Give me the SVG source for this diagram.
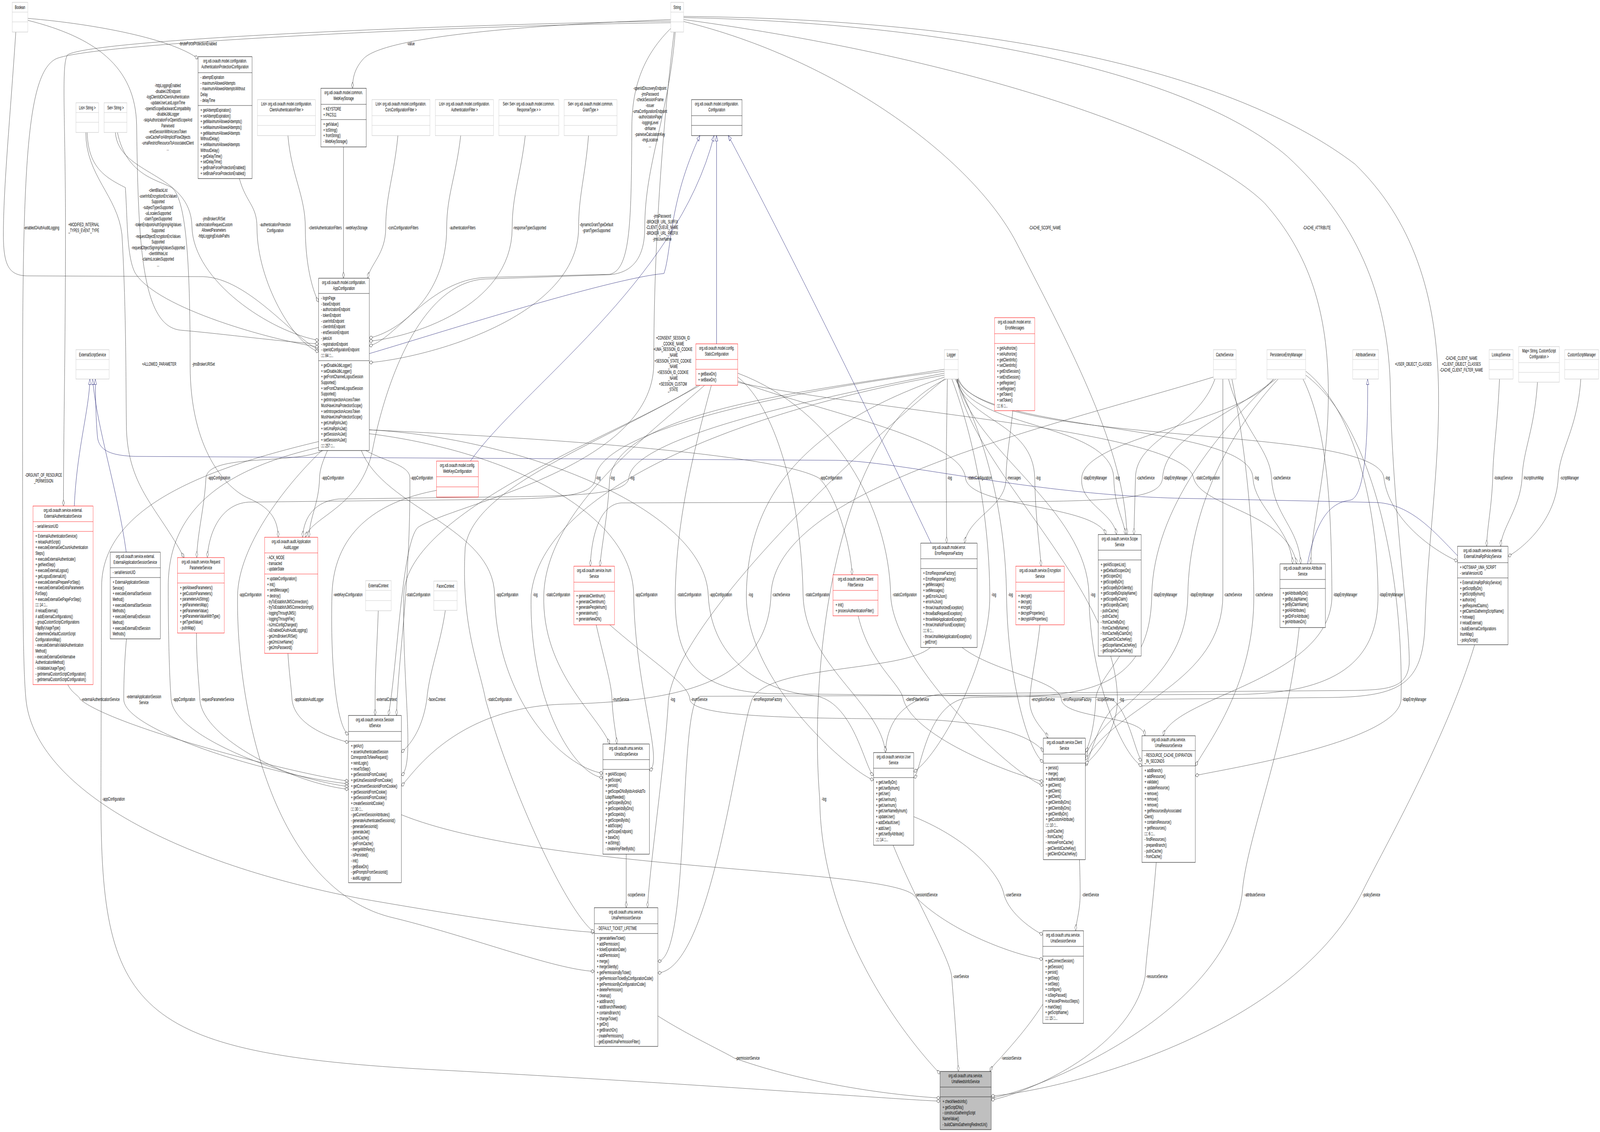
<svg xmlns="http://www.w3.org/2000/svg" width="7085" height="2897" viewBox="0 0 7085 2897" preserveAspectRatio="none">
<defs>
<style>
svg:root{width:100vw;height:100vh}
text{font-family:"Liberation Sans",Arial,Helvetica,sans-serif;font-size:12.5px;fill:#000}
.c{text-anchor:middle}
.node rect{fill:#fff;stroke-width:1}
.node line{stroke-width:1}
.b rect,.b line{stroke:#000}
.g rect,.g line{stroke:#bfbfbf}
.r rect,.r line{stroke:#ff0000}
.main rect{fill:#bfbfbf}
#connectors path{fill:none;stroke:#404040;stroke-width:1;marker-end:url(#dia)}
#connectors path.inh{stroke:#191970;marker-end:url(#tri)}
#edge-labels text{text-anchor:middle}
</style>
<marker id="dia" viewBox="-1 -6 18 12" refX="16" refY="0" markerWidth="18" markerHeight="12" markerUnits="userSpaceOnUse" orient="auto"><path d="M0,0 L8,-4.5 L16,0 L8,4.5 Z" fill="#fff" stroke="#404040" stroke-width="1"/></marker>
<marker id="tri" viewBox="-1 -7 16 14" refX="14" refY="0" markerWidth="16" markerHeight="14" markerUnits="userSpaceOnUse" orient="auto"><path d="M0,-5.5 L14,0 L0,5.5 Z" fill="#fff" stroke="#191970" stroke-width="1"/></marker>
</defs>
<rect x="0" y="0" width="7085" height="2897" fill="#fff"/>

<g id="connectors">
<path d="M123,47 C430,62 760,100 877,150"/>
<path d="M2970,50 C2300,65 1700,95 1610,150 C1575,172 1561,195 1561,226"/>
<path d="M123,52 C420,95 600,170 605,320 C612,620 625,835 800,845 C1000,855 1250,875 1411,880"/>
<path d="M2975,70 C2850,140 2800,220 2798,320 C2795,560 2795,690 2700,702 L2150,710 C1900,716 1750,870 1635,885"/>
<path d="M70,82 C45,300 15,480 15,600 C15,680 40,705 120,706 L900,708 C1100,712 1300,865 1411,895"/>
<path d="M386,339 C390,430 470,455 555,480 C565,560 560,660 600,700 C700,790 1200,870 1411,888"/>
<path d="M511,339 C525,450 845,440 850,580 C855,720 1200,850 1411,871"/>
<path d="M1060,457 C1090,520 1138,525 1138,583 C1138,720 1300,880 1411,900"/>
<path d="M1275,347 C1290,450 1352,500 1352,583 C1352,680 1385,745 1411,773"/>
<path d="M1521,376 L1521,712"/>
<path d="M1762,347 C1745,450 1708,500 1708,583 C1708,650 1640,675 1628,712"/>
<path d="M2040,347 C2020,450 1978,500 1978,583 C1978,760 1760,850 1635,865"/>
<path d="M2326,347 C2305,450 2268,500 2268,583 C2268,790 1800,865 1635,873"/>
<path d="M2606,347 C2592,450 2562,500 2562,583 C2562,810 1900,915 1635,928"/>
<path d="M2970,54 C2000,62 420,100 300,140 C270,160 290,300 290,583 C290,900 281,1100 281,1295"/>
<path d="M2970,58 C2000,66 420,110 250,150 C120,185 100,420 100,1000 C100,1500 100,1700 115,1790 C150,2000 700,2200 1600,2300 C2100,2350 2450,2380 2632,2386"/>
<path d="M2990,82 C2960,300 2855,420 2855,583 C2855,660 2800,698 2700,703 L2150,714 C1850,722 1700,1000 1650,1150 C1600,1300 1380,1320 1352,1375"/>
<path d="M520,339 C560,450 700,460 760,480 C830,510 842,700 842,936 C842,1150 1000,1250 1100,1275 C1200,1300 1230,1330 1232,1375"/>
<path d="M380,339 C380,450 520,500 540,600 C560,800 557,1000 560,1100 C570,1250 700,1300 815,1427"/>
<path d="M2985,82 C2940,300 2895,600 2895,932 C2890,1200 2000,1290 1850,1350 C1780,1390 1760,1700 1720,1831"/>
<path d="M3027,55 C3700,150 4300,400 4500,620 C4750,900 4980,1150 4990,1368"/>
<path d="M3027,50 C4300,150 5300,350 5600,520 C5800,650 5880,800 5882,1000 C5884,1200 5810,1330 5804,1443"/>
<path d="M3027,45 C4300,60 5300,200 5700,400 C6000,560 6150,750 6157,1000 C6165,1300 6245,1600 6240,1700 C6230,1760 6150,1765 6000,1767 L4200,1775 C4000,1780 3925,1850 3921,1926"/>
<path d="M3027,42 C4500,50 5500,200 6000,420 C6250,560 6365,750 6370,1000 C6375,1200 6320,1400 6310,1600 C6300,1750 6200,1782 5900,1785 L5000,1790 C4880,1795 4830,1940 4806,1960"/>
<path d="M4182,945 C3600,1000 2750,1050 2700,1223 C2690,1330 2662,1400 2657,1449"/>
<path d="M4182,950 C3500,1000 2650,1100 2637,1223 C2630,1268 2500,1275 2200,1278 L1100,1285 C980,1290 925,1360 918,1427"/>
<path d="M4182,955 C3600,1020 2800,1120 2785,1223 C2775,1262 2600,1268 2300,1271 L1500,1277 C1400,1282 1345,1320 1340,1375"/>
<path d="M1430,1153 C1300,1190 920,1160 912,1223 C905,1300 875,1360 871,1427"/>
<path d="M1450,1153 C1430,1180 1416,1200 1415,1223 C1412,1290 1372,1320 1368,1375"/>
<path d="M1620,1153 C1700,1180 1815,1190 1815,1223 C1818,1500 1760,1700 1756,1831"/>
<path d="M1635,1100 C2000,1110 3400,1150 3625,1223 C3700,1260 3770,1400 3773,1471"/>
<path d="M4195,970 C4192,1100 4190,1150 4190,1223 L4192,1390"/>
<path d="M3267,975 C3600,1050 4260,1120 4275,1223 C4290,1300 4850,1290 4898,1368"/>
<path d="M4485,1051 C4470,1130 4455,1180 4455,1223 C4455,1300 4290,1320 4271,1390"/>
<path d="M4235,970 C4280,1080 4575,1080 4582,1223 C4585,1330 4605,1400 4610,1449"/>
<path d="M5640,970 C5500,1080 4800,1120 4790,1223 C4780,1290 4930,1310 4944,1368"/>
<path d="M4238,970 C4300,1100 4920,1080 4932,1223 C4935,1300 4978,1330 4983,1368"/>
<path d="M5380,970 C5300,1100 5030,1120 5028,1223 L5021,1368"/>
<path d="M5650,970 C5400,1080 5160,1120 5148,1223 C5140,1272 5000,1282 4500,1284 L2750,1287 C2650,1292 2618,1380 2614,1449"/>
<path d="M3240,975 C3800,1050 5250,1100 5285,1223 C5320,1300 5700,1310 5742,1443"/>
<path d="M4240,968 C4320,1110 5540,1080 5548,1223 C5555,1300 5715,1350 5724,1443"/>
<path d="M5440,970 C5500,1100 5625,1150 5630,1223 C5640,1320 5752,1350 5760,1443"/>
<path d="M4242,966 C4340,1150 6100,1080 6128,1223 C6150,1330 6350,1410 6454,1436"/>
<path d="M6640,970 C6630,1100 6612,1150 6610,1223 C6605,1300 6585,1350 6583,1398"/>
<path d="M6808,978 C6795,1100 6745,1150 6740,1223 C6732,1300 6650,1350 6645,1398"/>
<path d="M7000,970 C6985,1100 6905,1150 6900,1223 C6890,1330 6750,1400 6678,1424"/>
<path d="M1425,1153 C1250,1250 1058,1400 1052,1522 C1045,1800 1200,2280 1750,2350 C2100,2400 2450,2480 2632,2486"/>
<path d="M3090,986 C2800,1100 1800,1300 1788,1522 C1780,1750 1840,1960 1777,1984"/>
<path d="M1600,1153 C1700,1300 2185,1350 2190,1522 C2200,1800 2500,1965 2670,1979"/>
<path d="M4182,960 C3300,1050 2400,1250 2352,1522 C2340,1800 2550,1985 2670,1990"/>
<path d="M3120,986 C2900,1100 2420,1300 2408,1522 C2398,1720 2650,1830 2700,1904"/>
<path d="M1635,1110 C2200,1150 2800,1300 2806,1522 C2812,1760 2940,1950 2876,1972"/>
<path d="M3150,986 C3050,1200 2995,1350 2990,1522 C2985,1700 3100,1765 3400,1775 L4900,1785 C4990,1790 5030,1940 5057,1946"/>
<path d="M1635,1100 C2300,1120 3120,1300 3136,1522 C3150,1700 3400,1770 3600,1780 C3780,1790 3830,1970 3868,1984"/>
<path d="M4182,965 C3500,1100 3310,1300 3305,1522 C3300,1750 3780,1980 3868,1996"/>
<path d="M5373,965 C4600,1100 3430,1250 3414,1522 C3400,1750 3000,1795 2500,1802 C2000,1810 1820,1990 1777,2011"/>
<path d="M3267,965 C3450,1050 3550,1300 3556,1522 C3562,1700 3900,1800 3921,1926"/>
<path d="M3267,955 C3700,1050 3935,1300 3944,1522 C3953,1700 4500,1990 4620,2010"/>
<path d="M4215,970 C4300,1100 4380,1300 4383,1522 C4386,1700 4150,1940 4046,1975"/>
<path d="M4230,970 C4350,1100 4452,1300 4457,1522 C4462,1750 4560,1930 4620,1950"/>
<path d="M4240,970 C4300,1150 4815,1300 4822,1522 C4826,1750 4980,1940 5057,1960"/>
<path d="M5640,970 C5400,1100 5110,1300 5100,1522 C5095,1800 4700,1780 4300,1785 C4100,1790 4080,1980 4046,1990"/>
<path d="M5660,970 C5450,1100 5265,1300 5260,1522 C5255,1750 4900,1800 4806,1935"/>
<path d="M5415,970 L5415,1522 C5415,1750 4950,1800 4806,1945"/>
<path d="M5455,970 C5500,1100 5548,1300 5552,1522 C5556,1750 5350,1900 5293,1960"/>
<path d="M5770,970 C5880,1100 5895,1300 5898,1522 C5902,1740 5200,1780 5150,1883"/>
<path d="M5782,950 C6000,1050 6100,1300 6102,1522 C6105,1700 5900,1772 5500,1777 L3100,1782 C3000,1790 3060,2455 2913,2460"/>
<path d="M1933,1255 C1700,1280 1478,1350 1470,1522 C1462,1700 1490,1860 1543,1880"/>
<path d="M300,1752 C320,1775 350,1780 355,1790 C500,1860 1300,1980 1543,1999"/>
<path d="M560,1635 C550,1700 548,1750 548,1790 C550,1870 1200,1985 1543,2006"/>
<path d="M1411,1145 C1000,1200 745,1300 745,1500 C745,1650 752,1750 758,1790 C770,1890 1300,1995 1543,2013"/>
<path d="M870,1620 C870,1700 882,1750 885,1790 C895,1890 1300,2005 1543,2020"/>
<path d="M1275,1672 C1280,1720 1290,1760 1293,1790 C1305,1860 1480,1890 1543,1900"/>
<path d="M1675,1563 C1670,1650 1661,1720 1661,1790 L1661,1831"/>
<path d="M1972,1562 C1950,1650 1900,1720 1890,1790 C1870,1870 1810,1910 1777,1925"/>
<path d="M3100,986 C2600,1150 2100,1250 2060,1400 C2040,1600 2120,1700 2150,1790 C2250,2000 2500,2330 2632,2386"/>
<path d="M2640,1599 C2680,1700 2708,1750 2710,1790 C2715,1850 2730,1880 2731,1904"/>
<path d="M4182,970 C3700,1200 3000,1600 2960,1790 C2945,1950 2880,2200 2867,2323"/>
<path d="M2700,1599 C2900,1700 3050,1750 3055,1790 C3065,1835 3500,1838 4000,1840 C4450,1842 4600,1900 4620,1925"/>
<path d="M4120,1657 C4000,1720 3400,1700 3330,1790 C3260,1900 3150,2480 2913,2490"/>
<path d="M3800,1576 C3850,1700 3990,1750 4000,1790 C4050,1890 4500,1985 4620,2000"/>
<path d="M4605,1599 C4590,1680 4565,1740 4560,1790 C4556,1840 4630,1870 4640,1889"/>
<path d="M4260,1657 C4400,1720 4690,1740 4700,1790 C4710,1840 5060,1830 5070,1883"/>
<path d="M4958,1679 C4900,1730 4855,1760 4852,1790 C4848,1860 4820,1912 4806,1924"/>
<path d="M4238,970 C4300,1200 4945,1500 4948,1790 C4948,1880 4830,1945 4806,1955"/>
<path d="M5782,960 C6100,1100 6215,1500 6204,1790 C6195,1900 5400,1970 5293,1985"/>
<path d="M1411,1130 C900,1200 452,1300 450,1500 C448,1800 447,2000 447,2045 C447,2600 600,2700 2000,2740 C3200,2778 4000,2815 4163,2818"/>
<path d="M4190,970 C3700,1100 3580,1700 3630,2045 C3635,2400 4050,2680 4163,2748"/>
<path d="M2773,2186 L2773,2323"/>
<path d="M1777,2085 C2400,2230 3900,2220 4045,2290 C4200,2385 4500,2445 4618,2455"/>
<path d="M4046,2090 C4300,2150 4430,2240 4446,2290 C4470,2340 4580,2382 4618,2392"/>
<path d="M4780,2200 C4783,2250 4783,2270 4783,2290 C4783,2330 4765,2360 4763,2382"/>
<path d="M5753,1606 C5700,1900 5515,2150 5500,2290 C5420,2600 4600,2790 4389,2810"/>
<path d="M6530,1650 C6400,1900 6100,2200 6026,2290 C5700,2650 4700,2790 4389,2805"/>
<path d="M3955,2163 C4050,2300 4205,2450 4214,2499 C4228,2600 4240,2700 4244,2742"/>
<path d="M5120,2207 C5100,2350 5075,2450 5071,2499 C5000,2700 4500,2805 4389,2815"/>
<path d="M2913,2600 C3050,2650 3200,2690 3252,2708 C3600,2780 4000,2805 4163,2810"/>
<path d="M4618,2570 C4540,2640 4455,2690 4430,2708 C4410,2720 4392,2730 4384,2742"/>
<path class="inh" d="M329,1295 C340,1150 395,1050 398,970"/>
<path class="inh" d="M559,1413 C520,1250 430,1100 410,970"/>
<path class="inh" d="M6454,1422 C6350,1360 6250,1292 6100,1286 L5300,1276 C4600,1272 4000,1180 3700,1178 L600,1168 C480,1166 440,1150 432,1120 C425,1080 423,1020 422,970"/>
<path class="inh" d="M1635,905 C1900,860 2700,712 2940,700 C2975,640 2960,520 3099,347"/>
<path class="inh" d="M2083,1180 C2300,1000 3000,720 3162,347"/>
<path class="inh" d="M3173,880 L3173,347"/>
<path class="inh" d="M4123,1390 C3950,1180 3550,700 3225,347"/>
<path class="inh" d="M5790,1443 C5830,1320 5900,1285 5980,1280 C6040,1270 6058,1150 6056,970"/>
</g>

<g id="edge-labels">
<text x="877" y="116">-bruteForceProtectionEnabled</text>
<text x="1819" y="116">-value</text>
<text y="223"><tspan x="743">-httpLoggingEnabled</tspan><tspan x="743" dy="14.7">-disableU2fEndpoint</tspan><tspan x="743" dy="14.7">-logClientIdOnClientAuthentication</tspan><tspan x="743" dy="14.7">-updateUserLastLogonTime</tspan><tspan x="743" dy="14.7">-openidScopeBackwardCompatibility</tspan><tspan x="743" dy="14.7">-disableJdkLogger</tspan><tspan x="743" dy="14.7">-skipAuthorizationForOpenIdScopeAnd</tspan><tspan x="743" dy="14.7">PairwiseId</tspan><tspan x="743" dy="14.7">-endSessionWithAccessToken</tspan><tspan x="743" dy="14.7">-useCacheForAllImplicitFlowObjects</tspan><tspan x="743" dy="14.7">-umaRestrictResourceToAssociatedClient</tspan><tspan x="743" dy="14.7">...</tspan></text>
<text y="230"><tspan x="2878">-openIdDiscoveryEndpoint</tspan><tspan x="2878" dy="14.7">-jmsPassword</tspan><tspan x="2878" dy="14.7">-checkSessionIFrame</tspan><tspan x="2878" dy="14.7">-issuer</tspan><tspan x="2878" dy="14.7">-umaConfigurationEndpoint</tspan><tspan x="2878" dy="14.7">-authorizationPage</tspan><tspan x="2878" dy="14.7">-loggingLevel</tspan><tspan x="2878" dy="14.7">-dnName</tspan><tspan x="2878" dy="14.7">-pairwiseCalculationKey</tspan><tspan x="2878" dy="14.7">-imgLocation</tspan><tspan x="2878" dy="14.7">...</tspan></text>
<text x="184" y="587">-enabledOAuthAuditLogging</text>
<text y="579"><tspan x="371">+MODIFIED_INTERNAL</tspan><tspan x="371" dy="15">_TYPES_EVENT_TYPE</tspan></text>
<text y="491"><tspan x="700">-clientBlackList</tspan><tspan x="700" dy="14.7">-userInfoEncryptionEncValues</tspan><tspan x="700" dy="14.7">Supported</tspan><tspan x="700" dy="14.7">-subjectTypesSupported</tspan><tspan x="700" dy="14.7">-uiLocalesSupported</tspan><tspan x="700" dy="14.7">-claimTypesSupported</tspan><tspan x="700" dy="14.7">-tokenEndpointAuthSigningAlgValues</tspan><tspan x="700" dy="14.7">Supported</tspan><tspan x="700" dy="14.7">-requestObjectEncryptionEncValues</tspan><tspan x="700" dy="14.7">Supported</tspan><tspan x="700" dy="14.7">-requestObjectSigningAlgValuesSupported</tspan><tspan x="700" dy="14.7">-clientWhiteList</tspan><tspan x="700" dy="14.7">-claimsLocalesSupported</tspan><tspan x="700" dy="14.7">...</tspan></text>
<text y="564"><tspan x="947">-jmsBrokerURISet</tspan><tspan x="947" dy="14.7">-authorizationRequestCustom</tspan><tspan x="947" dy="14.7">AllowedParameters</tspan><tspan x="947" dy="14.7">-httpLoggingExludePaths</tspan></text>
<text y="579"><tspan x="1219">-authenticationProtection</tspan><tspan x="1219" dy="15">Configuration</tspan></text>
<text x="1440" y="587">-clientAuthenticationFilters</text>
<text x="1578" y="587">-webKeysStorage</text>
<text x="1785" y="587">-corsConfigurationFilters</text>
<text x="2048" y="587">-authenticationFilters</text>
<text x="2345" y="587">-responseTypesSupported</text>
<text y="579"><tspan x="2641">-dynamicGrantTypeDefault</tspan><tspan x="2641" dy="15">-grantTypesSupported</tspan></text>
<text y="557"><tspan x="2932">-jmsPassword</tspan><tspan x="2932" dy="14.7">-BROKER_URL_SUFFIX</tspan><tspan x="2932" dy="14.7">-CLIENT_QUEUE_NAME</tspan><tspan x="2932" dy="14.7">-BROKER_URL_PREFIX</tspan><tspan x="2932" dy="14.7">-jmsUserName</tspan></text>
<text x="4627" y="587">-CACHE_SCOPE_NAME</text>
<text x="5831" y="587">-CACHE_ATTRIBUTE</text>
<text x="705" y="936">+ALLOWED_PARAMETER</text>
<text x="901" y="936">-jmsBrokerURISet</text>
<text y="869"><tspan x="2980">+CONSENT_SESSION_ID</tspan><tspan x="2980" dy="14.7">_COOKIE_NAME</tspan><tspan x="2980" dy="14.7">+UMA_SESSION_ID_COOKIE</tspan><tspan x="2980" dy="14.7">_NAME</tspan><tspan x="2980" dy="14.7">+SESSION_STATE_COOKIE</tspan><tspan x="2980" dy="14.7">_NAME</tspan><tspan x="2980" dy="14.7">+SESSION_ID_COOKIE</tspan><tspan x="2980" dy="14.7">_NAME</tspan><tspan x="2980" dy="14.7">+SESSION_CUSTOM</tspan><tspan x="2980" dy="14.7">_STATE</tspan></text>
<text x="6258" y="936">+USER_OBJECT_CLASSES</text>
<text y="921"><tspan x="6471">-CACHE_CLIENT_NAME</tspan><tspan x="6471" dy="15">+CLIENT_OBJECT_CLASSES</tspan><tspan x="6471" dy="15">-CACHE_CLIENT_FILTER_NAME</tspan></text>
<text y="1220"><tspan x="193">-ORGUNIT_OF_RESOURCE</tspan><tspan x="193" dy="14.7">_PERMISSION</tspan></text>
<text x="970" y="1227">-appConfiguration</text>
<text x="1474" y="1227">-appConfiguration</text>
<text x="1868" y="1227">-appConfiguration</text>
<text x="2649" y="1227">-log</text>
<text x="2712" y="1227">-log</text>
<text x="2799" y="1227">-log</text>
<text x="3680" y="1227">-appConfiguration</text>
<text x="4205" y="1227">-log</text>
<text x="4338" y="1227">-staticConfiguration</text>
<text x="4490" y="1227">-messages</text>
<text x="4597" y="1227">-log</text>
<text x="4849" y="1227">-ldapEntryManager</text>
<text x="4948" y="1227">-log</text>
<text x="5073" y="1227">-cacheService</text>
<text x="5205" y="1227">-ldapEntryManager</text>
<text x="5348" y="1227">-staticConfiguration</text>
<text x="5564" y="1227">-log</text>
<text x="5675" y="1227">-cacheService</text>
<text x="6144" y="1227">-log</text>
<text x="6657" y="1227">-lookupService</text>
<text x="6791" y="1227">#scriptInumMap</text>
<text x="6950" y="1227">-scriptManager</text>
<text x="1109" y="1526">-appConfiguration</text>
<text x="1541" y="1526">-webKeysConfiguration</text>
<text x="1852" y="1526">-staticConfiguration</text>
<text x="2246" y="1526">-appConfiguration</text>
<text x="2370" y="1526">-log</text>
<text x="2471" y="1526">-staticConfiguration</text>
<text x="2862" y="1526">-appConfiguration</text>
<text x="3052" y="1526">-staticConfiguration</text>
<text x="3192" y="1526">-appConfiguration</text>
<text x="3324" y="1526">-log</text>
<text x="3459" y="1526">-cacheService</text>
<text x="3619" y="1526">-staticConfiguration</text>
<text x="4006" y="1526">-staticConfiguration</text>
<text x="4401" y="1526">-log</text>
<text x="4475" y="1526">-log</text>
<text x="4840" y="1526">-log</text>
<text x="5160" y="1526">-ldapEntryManager</text>
<text x="5322" y="1526">-ldapEntryManager</text>
<text x="5460" y="1526">-cacheService</text>
<text x="5597" y="1526">-cacheService</text>
<text x="5957" y="1526">-ldapEntryManager</text>
<text x="6161" y="1526">-ldapEntryManager</text>
<text x="445" y="1794">-externalAuthenticationService</text>
<text y="1787"><tspan x="637">-externalApplicationSession</tspan><tspan x="637" dy="15">Service</tspan></text>
<text x="815" y="1794">-appConfiguration</text>
<text x="964" y="1794">-requestParameterService</text>
<text x="1368" y="1794">-applicationAuditLogger</text>
<text x="1711" y="1794">-externalContext</text>
<text x="1934" y="1794">-facesContext</text>
<text x="2213" y="1794">-staticConfiguration</text>
<text x="2749" y="1794">-inumService</text>
<text x="2979" y="1794">-log</text>
<text x="3096" y="1794">-inumService</text>
<text x="3399" y="1794">-errorResponseFactory</text>
<text x="4062" y="1794">-clientFilterService</text>
<text x="4619" y="1794">-encryptionService</text>
<text x="4769" y="1794">-errorResponseFactory</text>
<text x="4895" y="1794">-scopeService</text>
<text x="4967" y="1794">-log</text>
<text x="6263" y="1794">-ldapEntryManager</text>
<text x="503" y="2049">-appConfiguration</text>
<text x="3649" y="2049">-log</text>
<text x="2817" y="2294">-scopeService</text>
<text x="4102" y="2294">-sessionIdService</text>
<text x="4487" y="2294">-userService</text>
<text x="4829" y="2294">-clientService</text>
<text x="5557" y="2294">-attributeService</text>
<text x="6073" y="2294">-policyService</text>
<text x="4255" y="2503">-userService</text>
<text x="5123" y="2503">-resourceService</text>
<text x="3311" y="2712">-permissionService</text>
<text x="4479" y="2712">-sessionService</text>
</g>

<g id="node-Boolean" class="node g"><rect x="54" y="6" width="69" height="76"/><line x1="54" y1="31" x2="123" y2="31"/><line x1="54" y1="56" x2="123" y2="56"/><text class="c" x="88.5" y="23">Boolean</text></g>
<g id="node-String" class="node g"><rect x="2970" y="6" width="57" height="76"/><line x1="2970" y1="31" x2="3027" y2="31"/><line x1="2970" y1="56" x2="3027" y2="56"/><text class="c" x="2998.5" y="23">String</text></g>
<g id="node-AuthenticationProtectionConfiguration" class="node b"><rect x="877" y="145" width="239" height="312"/><line x1="877" y1="186" x2="1116" y2="186"/><line x1="877" y1="270" x2="1116" y2="270"/>
<text class="c" y="160"><tspan x="996.5">org.xdi.oxauth.model.configuration.</tspan><tspan x="996.5" dy="15">AuthenticationProtectionConfiguration</tspan></text>
<text y="202"><tspan x="888">- attemptExpiration</tspan><tspan x="888" dy="14.7">- maximumAllowedAttempts</tspan><tspan x="888" dy="14.7">- maximumAllowedAttemptsWithout</tspan><tspan x="888" dy="14.7">Delay</tspan><tspan x="888" dy="14.7">- delayTime</tspan></text>
<text y="286"><tspan x="888">+ getAttemptExpiration()</tspan><tspan x="888" dy="14.7">+ setAttemptExpiration()</tspan><tspan x="888" dy="14.7">+ getMaximumAllowedAttempts()</tspan><tspan x="888" dy="14.7">+ setMaximumAllowedAttempts()</tspan><tspan x="888" dy="14.7">+ getMaximumAllowedAttempts</tspan><tspan x="888" dy="14.7">WithoutDelay()</tspan><tspan x="888" dy="14.7">+ setMaximumAllowedAttempts</tspan><tspan x="888" dy="14.7">WithoutDelay()</tspan><tspan x="888" dy="14.7">+ getDelayTime()</tspan><tspan x="888" dy="14.7">+ setDelayTime()</tspan><tspan x="888" dy="14.7">+ getBruteForceProtectionEnabled()</tspan><tspan x="888" dy="14.7">+ setBruteForceProtectionEnabled()</tspan></text></g>
<g id="node-ListString" class="node g"><rect x="336" y="263" width="101" height="76"/><line x1="336" y1="288" x2="437" y2="288"/><line x1="336" y1="313" x2="437" y2="313"/><text class="c" x="386.5" y="280">List&lt; String &gt;</text></g>
<g id="node-SetString" class="node g"><rect x="461" y="263" width="101" height="76"/><line x1="461" y1="288" x2="562" y2="288"/><line x1="461" y1="313" x2="562" y2="313"/><text class="c" x="511.5" y="280">Set&lt; String &gt;</text></g>
<g id="node-ListClientAuthenticationFilter" class="node g"><rect x="1140" y="255" width="257" height="92"/><line x1="1140" y1="296" x2="1397" y2="296"/><line x1="1140" y1="321" x2="1397" y2="321"/><text class="c" y="270"><tspan x="1268.5">List&lt; org.xdi.oxauth.model.configuration.</tspan><tspan x="1268.5" dy="15">ClientAuthenticationFilter &gt;</tspan></text></g>
<g id="node-WebKeyStorage" class="node b"><rect x="1421" y="226" width="201" height="150"/><line x1="1421" y1="267" x2="1622" y2="267"/><line x1="1421" y1="306" x2="1622" y2="306"/>
<text class="c" y="241"><tspan x="1521.5">org.xdi.oxauth.model.common.</tspan><tspan x="1521.5" dy="15">WebKeyStorage</tspan></text>
<text y="283"><tspan x="1432">+ KEYSTORE</tspan><tspan x="1432" dy="14.7">+ PKCS11</tspan></text>
<text y="322"><tspan x="1432">+ getValue()</tspan><tspan x="1432" dy="14.7">+ toString()</tspan><tspan x="1432" dy="14.7">+ fromString()</tspan><tspan x="1432" dy="14.7">- WebKeyStorage()</tspan></text></g>
<g id="node-ListCorsConfigurationFilter" class="node g"><rect x="1647" y="255" width="257" height="92"/><line x1="1647" y1="296" x2="1904" y2="296"/><line x1="1647" y1="321" x2="1904" y2="321"/><text class="c" y="270"><tspan x="1775.5">List&lt; org.xdi.oxauth.model.configuration.</tspan><tspan x="1775.5" dy="15">CorsConfigurationFilter &gt;</tspan></text></g>
<g id="node-ListAuthenticationFilter" class="node g"><rect x="1928" y="255" width="257" height="92"/><line x1="1928" y1="296" x2="2185" y2="296"/><line x1="1928" y1="321" x2="2185" y2="321"/><text class="c" y="270"><tspan x="2056.5">List&lt; org.xdi.oxauth.model.configuration.</tspan><tspan x="2056.5" dy="15">AuthenticationFilter &gt;</tspan></text></g>
<g id="node-SetSetResponseType" class="node g"><rect x="2209" y="255" width="265" height="92"/><line x1="2209" y1="296" x2="2474" y2="296"/><line x1="2209" y1="321" x2="2474" y2="321"/><text class="c" y="270"><tspan x="2341.5">Set&lt; Set&lt; org.xdi.oxauth.model.common.</tspan><tspan x="2341.5" dy="15">ResponseType &gt; &gt;</tspan></text></g>
<g id="node-SetGrantType" class="node g"><rect x="2498" y="255" width="234" height="92"/><line x1="2498" y1="296" x2="2732" y2="296"/><line x1="2498" y1="321" x2="2732" y2="321"/><text class="c" y="270"><tspan x="2615">Set&lt; org.xdi.oxauth.model.common.</tspan><tspan x="2615" dy="15">GrantType &gt;</tspan></text></g>
<g id="node-Configuration" class="node b"><rect x="3062" y="255" width="224" height="92"/><line x1="3062" y1="296" x2="3286" y2="296"/><line x1="3062" y1="321" x2="3286" y2="321"/><text class="c" y="270"><tspan x="3174">org.xdi.oxauth.model.configuration.</tspan><tspan x="3174" dy="15">Configuration</tspan></text></g>
<g id="node-AppConfiguration" class="node b"><rect x="1411" y="712" width="224" height="441"/><line x1="1411" y1="751" x2="1635" y2="751"/><line x1="1411" y1="923" x2="1635" y2="923"/>
<text class="c" y="727"><tspan x="1523">org.xdi.oxauth.model.configuration.</tspan><tspan x="1523" dy="15">AppConfiguration</tspan></text>
<text y="767"><tspan x="1422">- loginPage</tspan><tspan x="1422" dy="14.7">- baseEndpoint</tspan><tspan x="1422" dy="14.7">- authorizationEndpoint</tspan><tspan x="1422" dy="14.7">- tokenEndpoint</tspan><tspan x="1422" dy="14.7">- userInfoEndpoint</tspan><tspan x="1422" dy="14.7">- clientInfoEndpoint</tspan><tspan x="1422" dy="14.7">- endSessionEndpoint</tspan><tspan x="1422" dy="14.7">- jwksUri</tspan><tspan x="1422" dy="14.7">- registrationEndpoint</tspan><tspan x="1422" dy="14.7">- openIdConfigurationEndpoint</tspan><tspan x="1422" dy="14.7">□□ 84 □...</tspan></text>
<text y="939"><tspan x="1422">+ getDisableJdkLogger()</tspan><tspan x="1422" dy="14.7">+ setDisableJdkLogger()</tspan><tspan x="1422" dy="14.7">+ getFrontChannelLogoutSession</tspan><tspan x="1422" dy="14.7">Supported()</tspan><tspan x="1422" dy="14.7">+ setFrontChannelLogoutSession</tspan><tspan x="1422" dy="14.7">Supported()</tspan><tspan x="1422" dy="14.7">+ getIntrospectionAccessToken</tspan><tspan x="1422" dy="14.7">MustHaveUmaProtectionScope()</tspan><tspan x="1422" dy="14.7">+ setIntrospectionAccessToken</tspan><tspan x="1422" dy="14.7">MustHaveUmaProtectionScope()</tspan><tspan x="1422" dy="14.7">+ getUmaRptAsJwt()</tspan><tspan x="1422" dy="14.7">+ setUmaRptAsJwt()</tspan><tspan x="1422" dy="14.7">+ getSessionAsJwt()</tspan><tspan x="1422" dy="14.7">+ setSessionAsJwt()</tspan><tspan x="1422" dy="14.7">□□ 257 □...</tspan></text></g>
<g id="node-ExternalScriptService" class="node g"><rect x="336" y="895" width="147" height="75"/><line x1="336" y1="920" x2="483" y2="920"/><line x1="336" y1="946" x2="483" y2="946"/><text class="c" x="409.5" y="912">ExternalScriptService</text></g>
<g id="node-StaticConfiguration" class="node r"><rect x="3081" y="880" width="186" height="106"/><line x1="3081" y1="920" x2="3267" y2="920"/><line x1="3081" y1="945" x2="3267" y2="945"/>
<text class="c" y="895"><tspan x="3174">org.xdi.oxauth.model.config.</tspan><tspan x="3174" dy="15">StaticConfiguration</tspan></text>
<text y="961"><tspan x="3092">+ getBaseDn()</tspan><tspan x="3092" dy="14.7">+ setBaseDn()</tspan></text></g>
<g id="node-Logger" class="node g"><rect x="4182" y="895" width="61" height="75"/><line x1="4182" y1="920" x2="4243" y2="920"/><line x1="4182" y1="946" x2="4243" y2="946"/><text class="c" x="4212.5" y="912">Logger</text></g>
<g id="node-ErrorMessages" class="node r"><rect x="4404" y="813" width="178" height="238"/><line x1="4404" y1="854" x2="4582" y2="854"/><line x1="4404" y1="879" x2="4582" y2="879"/>
<text class="c" y="828"><tspan x="4493">org.xdi.oxauth.model.error.</tspan><tspan x="4493" dy="15">ErrorMessages</tspan></text>
<text y="895"><tspan x="4415">+ getAuthorize()</tspan><tspan x="4415" dy="14.8">+ setAuthorize()</tspan><tspan x="4415" dy="14.8">+ getClientInfo()</tspan><tspan x="4415" dy="14.8">+ setClientInfo()</tspan><tspan x="4415" dy="14.8">+ getEndSession()</tspan><tspan x="4415" dy="14.8">+ setEndSession()</tspan><tspan x="4415" dy="14.8">+ getRegister()</tspan><tspan x="4415" dy="14.8">+ setRegister()</tspan><tspan x="4415" dy="14.8">+ getToken()</tspan><tspan x="4415" dy="14.8">+ setToken()</tspan><tspan x="4415" dy="14.8">□□ 6 □...</tspan></text></g>
<g id="node-CacheService" class="node g"><rect x="5373" y="895" width="101" height="75"/><line x1="5373" y1="920" x2="5474" y2="920"/><line x1="5373" y1="946" x2="5474" y2="946"/><text class="c" x="5423.5" y="912">CacheService</text></g>
<g id="node-PersistenceEntryManager" class="node g"><rect x="5610" y="895" width="172" height="75"/><line x1="5610" y1="920" x2="5782" y2="920"/><line x1="5610" y1="946" x2="5782" y2="946"/><text class="c" x="5696" y="912">PersistenceEntryManager</text></g>
<g id="node-AttributeServiceBase" class="node g"><rect x="5990" y="895" width="114" height="75"/><line x1="5990" y1="920" x2="6104" y2="920"/><line x1="5990" y1="946" x2="6104" y2="946"/><text class="c" x="6047" y="912">AttributeService</text></g>
<g id="node-LookupService" class="node g"><rect x="6594" y="895" width="106" height="75"/><line x1="6594" y1="920" x2="6700" y2="920"/><line x1="6594" y1="946" x2="6700" y2="946"/><text class="c" x="6647" y="912">LookupService</text></g>
<g id="node-MapCustomScriptConfiguration" class="node g"><rect x="6725" y="887" width="180" height="91"/><line x1="6725" y1="928" x2="6905" y2="928"/><line x1="6725" y1="953" x2="6905" y2="953"/><text class="c" y="902"><tspan x="6815">Map&lt; String, CustomScript</tspan><tspan x="6815" dy="15">Configuration &gt;</tspan></text></g>
<g id="node-CustomScriptManager" class="node g"><rect x="6929" y="895" width="150" height="75"/><line x1="6929" y1="920" x2="7079" y2="920"/><line x1="6929" y1="946" x2="7079" y2="946"/><text class="c" x="7004" y="912">CustomScriptManager</text></g>
<g id="node-WebKeysConfiguration" class="node r"><rect x="1933" y="1180" width="185" height="92"/><line x1="1933" y1="1220" x2="2118" y2="1220"/><line x1="1933" y1="1246" x2="2118" y2="1246"/><text class="c" y="1195"><tspan x="2025.5">org.xdi.oxauth.model.config.</tspan><tspan x="2025.5" dy="15">WebKeysConfiguration</tspan></text></g>
<g id="node-ExternalAuthenticationService" class="node r"><rect x="146" y="1295" width="266" height="457"/><line x1="146" y1="1335" x2="412" y2="1335"/><line x1="146" y1="1360" x2="412" y2="1360"/>
<text class="c" y="1310"><tspan x="279">org.xdi.oxauth.service.external.</tspan><tspan x="279" dy="15">ExternalAuthenticationService</tspan></text>
<text x="157" y="1351">- serialVersionUID</text>
<text y="1376"><tspan x="157">+ ExternalAuthenticationService()</tspan><tspan x="157" dy="14.7">+ reloadAuthScript()</tspan><tspan x="157" dy="14.7">+ executeExternalGetCountAuthentication</tspan><tspan x="157" dy="14.7">Steps()</tspan><tspan x="157" dy="14.7">+ executeExternalAuthenticate()</tspan><tspan x="157" dy="14.7">+ getNextStep()</tspan><tspan x="157" dy="14.7">+ executeExternalLogout()</tspan><tspan x="157" dy="14.7">+ getLogoutExternalUrl()</tspan><tspan x="157" dy="14.7">+ executeExternalPrepareForStep()</tspan><tspan x="157" dy="14.7">+ executeExternalGetExtraParameters</tspan><tspan x="157" dy="14.7">ForStep()</tspan><tspan x="157" dy="14.7">+ executeExternalGetPageForStep()</tspan><tspan x="157" dy="14.7">□□ 14 □...</tspan><tspan x="157" dy="14.7"># reloadExternal()</tspan><tspan x="157" dy="14.7"># addExternalConfigurations()</tspan><tspan x="157" dy="14.7">- groupCustomScriptConfigurations</tspan><tspan x="157" dy="14.7">MapByUsageType()</tspan><tspan x="157" dy="14.7">- determineDefaultCustomScript</tspan><tspan x="157" dy="14.7">ConfigurationsMap()</tspan><tspan x="157" dy="14.7">- executeExternalIsValidAuthentication</tspan><tspan x="157" dy="14.7">Method()</tspan><tspan x="157" dy="14.7">- executeExternalGetAlternative</tspan><tspan x="157" dy="14.7">AuthenticationMethod()</tspan><tspan x="157" dy="14.7">- isValidateUsageType()</tspan><tspan x="157" dy="14.7">- getInternalCustomScriptConfiguration()</tspan><tspan x="157" dy="14.7">- getInternalCustomScriptConfiguration()</tspan></text></g>
<g id="node-ExternalApplicationSessionService" class="node b"><rect x="488" y="1413" width="222" height="222"/><line x1="488" y1="1453" x2="710" y2="1453"/><line x1="488" y1="1478" x2="710" y2="1478"/>
<text class="c" y="1428"><tspan x="599">org.xdi.oxauth.service.external.</tspan><tspan x="599" dy="15">ExternalApplicationSessionService</tspan></text>
<text x="499" y="1469">- serialVersionUID</text>
<text y="1494"><tspan x="499">+ ExternalApplicationSession</tspan><tspan x="499" dy="14.7">Service()</tspan><tspan x="499" dy="14.7">+ executeExternalStartSession</tspan><tspan x="499" dy="14.7">Method()</tspan><tspan x="499" dy="14.7">+ executeExternalStartSession</tspan><tspan x="499" dy="14.7">Methods()</tspan><tspan x="499" dy="14.7">+ executeExternalEndSession</tspan><tspan x="499" dy="14.7">Method()</tspan><tspan x="499" dy="14.7">+ executeExternalEndSession</tspan><tspan x="499" dy="14.7">Methods()</tspan></text></g>
<g id="node-RequestParameterService" class="node r"><rect x="786" y="1427" width="207" height="193"/><line x1="786" y1="1467" x2="993" y2="1467"/><line x1="786" y1="1492" x2="993" y2="1492"/>
<text class="c" y="1442"><tspan x="889.5">org.xdi.oxauth.service.Request</tspan><tspan x="889.5" dy="15">ParameterService</tspan></text>
<text y="1508"><tspan x="797">+ getAllowedParameters()</tspan><tspan x="797" dy="14.7">+ getCustomParameters()</tspan><tspan x="797" dy="14.7">+ parametersAsString()</tspan><tspan x="797" dy="14.7">+ getParametersMap()</tspan><tspan x="797" dy="14.7">+ getParameterValue()</tspan><tspan x="797" dy="14.7">+ getParameterValueWithType()</tspan><tspan x="797" dy="14.7">+ getTypedValue()</tspan><tspan x="797" dy="14.7">- putInMap()</tspan></text></g>
<g id="node-ApplicationAuditLogger" class="node r"><rect x="1172" y="1375" width="235" height="297"/><line x1="1172" y1="1415" x2="1407" y2="1415"/><line x1="1172" y1="1469" x2="1407" y2="1469"/>
<text class="c" y="1390"><tspan x="1289.5">org.xdi.oxauth.audit.Application</tspan><tspan x="1289.5" dy="15">AuditLogger</tspan></text>
<text y="1431"><tspan x="1183">- ACK_MODE</tspan><tspan x="1183" dy="14.7">- transacted</tspan><tspan x="1183" dy="14.7">- updateState</tspan></text>
<text y="1485"><tspan x="1183">+ updateConfiguration()</tspan><tspan x="1183" dy="14.7">+ init()</tspan><tspan x="1183" dy="14.7">+ sendMessage()</tspan><tspan x="1183" dy="14.7">+ destroy()</tspan><tspan x="1183" dy="14.7">- tryToEstablishJMSConnection()</tspan><tspan x="1183" dy="14.7">- tryToEstablishJMSConnectionImpl()</tspan><tspan x="1183" dy="14.7">- loggingThroughJMS()</tspan><tspan x="1183" dy="14.7">- loggingThroughFile()</tspan><tspan x="1183" dy="14.7">- isJmsConfigChanged()</tspan><tspan x="1183" dy="14.7">- isEnabledOAuthAuditLogging()</tspan><tspan x="1183" dy="14.7">- getJmsBrokerURISet()</tspan><tspan x="1183" dy="14.7">- getJmsUserName()</tspan><tspan x="1183" dy="14.7">- getJmsPassword()</tspan></text></g>
<g id="node-ExternalContext" class="node g"><rect x="1619" y="1486" width="113" height="77"/><line x1="1619" y1="1511" x2="1732" y2="1511"/><line x1="1619" y1="1537" x2="1732" y2="1537"/><text class="c" x="1675.5" y="1503">ExternalContext</text></g>
<g id="node-FacesContext" class="node g"><rect x="1921" y="1487" width="103" height="75"/><line x1="1921" y1="1512" x2="2024" y2="1512"/><line x1="1921" y1="1537" x2="2024" y2="1537"/><text class="c" x="1972.5" y="1504">FacesContext</text></g>
<g id="node-InumService" class="node r"><rect x="2541" y="1449" width="180" height="150"/><line x1="2541" y1="1490" x2="2721" y2="1490"/><line x1="2541" y1="1513" x2="2721" y2="1513"/>
<text class="c" y="1464"><tspan x="2631">org.xdi.oxauth.service.Inum</tspan><tspan x="2631" dy="15">Service</tspan></text>
<text y="1529"><tspan x="2552">+ generateClientInum()</tspan><tspan x="2552" dy="14.7">+ generateClientInum()</tspan><tspan x="2552" dy="14.7">+ generatePeopleInum()</tspan><tspan x="2552" dy="14.7">+ generateInum()</tspan><tspan x="2552" dy="14.7">+ generateNewDN()</tspan></text></g>
<g id="node-ClientFilterService" class="node r"><rect x="3689" y="1471" width="199" height="105"/><line x1="3689" y1="1511" x2="3888" y2="1511"/><line x1="3689" y1="1536" x2="3888" y2="1536"/>
<text class="c" y="1486"><tspan x="3788.5">org.xdi.oxauth.service.Client</tspan><tspan x="3788.5" dy="15">FilterService</tspan></text>
<text y="1552"><tspan x="3700">+ init()</tspan><tspan x="3700" dy="14.7">+ processAuthenticationFilter()</tspan></text></g>
<g id="node-ErrorResponseFactory" class="node b"><rect x="4077" y="1390" width="250" height="267"/><line x1="4077" y1="1430" x2="4327" y2="1430"/><line x1="4077" y1="1455" x2="4327" y2="1455"/>
<text class="c" y="1405"><tspan x="4202">org.xdi.oxauth.model.error.</tspan><tspan x="4202" dy="15">ErrorResponseFactory</tspan></text>
<text y="1471"><tspan x="4088">+ ErrorResponseFactory()</tspan><tspan x="4088" dy="14.7">+ ErrorResponseFactory()</tspan><tspan x="4088" dy="14.7">+ getMessages()</tspan><tspan x="4088" dy="14.7">+ setMessages()</tspan><tspan x="4088" dy="14.7">+ getErrorAsJson()</tspan><tspan x="4088" dy="14.7">+ errorAsJson()</tspan><tspan x="4088" dy="14.7">+ throwUnauthorizedException()</tspan><tspan x="4088" dy="14.7">+ throwBadRequestException()</tspan><tspan x="4088" dy="14.7">+ throwWebApplicationException()</tspan><tspan x="4088" dy="14.7">+ throwUmaNotFoundException()</tspan><tspan x="4088" dy="14.7">□□ 6 □...</tspan><tspan x="4088" dy="14.7">- throwUmaWebApplicationException()</tspan><tspan x="4088" dy="14.7">- getError()</tspan></text></g>
<g id="node-EncryptionService" class="node r"><rect x="4498" y="1449" width="215" height="150"/><line x1="4498" y1="1490" x2="4713" y2="1490"/><line x1="4498" y1="1513" x2="4713" y2="1513"/>
<text class="c" y="1464"><tspan x="4605.5">org.xdi.oxauth.service.Encryption</tspan><tspan x="4605.5" dy="15">Service</tspan></text>
<text y="1529"><tspan x="4509">+ decrypt()</tspan><tspan x="4509" dy="14.7">+ decrypt()</tspan><tspan x="4509" dy="14.7">+ encrypt()</tspan><tspan x="4509" dy="14.7">+ decryptProperties()</tspan><tspan x="4509" dy="14.7">+ decryptAllProperties()</tspan></text></g>
<g id="node-ScopeService" class="node b"><rect x="4863" y="1368" width="190" height="311"/><line x1="4863" y1="1408" x2="5053" y2="1408"/><line x1="4863" y1="1433" x2="5053" y2="1433"/>
<text class="c" y="1383"><tspan x="4958">org.xdi.oxauth.service.Scope</tspan><tspan x="4958" dy="15">Service</tspan></text>
<text y="1449"><tspan x="4874">+ getAllScopesList()</tspan><tspan x="4874" dy="14.7">+ getDefaultScopesDn()</tspan><tspan x="4874" dy="14.7">+ getScopesDn()</tspan><tspan x="4874" dy="14.7">+ getScopeByDn()</tspan><tspan x="4874" dy="14.7">+ getScopeByDnSilently()</tspan><tspan x="4874" dy="14.7">+ getScopeByDisplayName()</tspan><tspan x="4874" dy="14.7">+ getScopeByClaim()</tspan><tspan x="4874" dy="14.7">+ getScopesByClaim()</tspan><tspan x="4874" dy="14.7">- putInCache()</tspan><tspan x="4874" dy="14.7">- putInCache()</tspan><tspan x="4874" dy="14.7">- fromCacheByDn()</tspan><tspan x="4874" dy="14.7">- fromCacheByName()</tspan><tspan x="4874" dy="14.7">- fromCacheByClaimDn()</tspan><tspan x="4874" dy="14.7">- getClaimDnCacheKey()</tspan><tspan x="4874" dy="14.7">- getScopeNameCacheKey()</tspan><tspan x="4874" dy="14.7">- getScopeDnCacheKey()</tspan></text></g>
<g id="node-AttributeService" class="node b"><rect x="5668" y="1443" width="201" height="163"/><line x1="5668" y1="1483" x2="5869" y2="1483"/><line x1="5668" y1="1506" x2="5869" y2="1506"/>
<text class="c" y="1458"><tspan x="5768.5">org.xdi.oxauth.service.Attribute</tspan><tspan x="5768.5" dy="15">Service</tspan></text>
<text y="1522"><tspan x="5679">+ getAttributeByDn()</tspan><tspan x="5679" dy="14.7">+ getByLdapName()</tspan><tspan x="5679" dy="14.7">+ getByClaimName()</tspan><tspan x="5679" dy="14.7">+ getAllAttributes()</tspan><tspan x="5679" dy="14.7">+ getDnForAttribute()</tspan><tspan x="5679" dy="14.7">+ getAttributesDn()</tspan></text></g>
<g id="node-ExternalUmaRptPolicyService" class="node b"><rect x="6454" y="1398" width="224" height="252"/><line x1="6454" y1="1440" x2="6678" y2="1440"/><line x1="6454" y1="1479" x2="6678" y2="1479"/>
<text class="c" y="1413"><tspan x="6566">org.xdi.oxauth.service.external.</tspan><tspan x="6566" dy="15">ExternalUmaRptPolicyService</tspan></text>
<text y="1456"><tspan x="6465">+ HOTSWAP_UMA_SCRIPT</tspan><tspan x="6465" dy="14.7">- serialVersionUID</tspan></text>
<text y="1495"><tspan x="6465">+ ExternalUmaRptPolicyService()</tspan><tspan x="6465" dy="14.7">+ getScriptByDn()</tspan><tspan x="6465" dy="14.7">+ getScriptByInum()</tspan><tspan x="6465" dy="14.7">+ authorize()</tspan><tspan x="6465" dy="14.7">+ getRequiredClaims()</tspan><tspan x="6465" dy="14.7">+ getClaimsGatheringScriptName()</tspan><tspan x="6465" dy="14.7">+ hotswap()</tspan><tspan x="6465" dy="14.7"># reloadExternal()</tspan><tspan x="6465" dy="14.7">- buildExternalConfigurations</tspan><tspan x="6465" dy="14.7">InumMap()</tspan><tspan x="6465" dy="14.7">- policyScript()</tspan></text></g>
<g id="node-SessionIdService" class="node b"><rect x="1543" y="1831" width="234" height="428"/><line x1="1543" y1="1872" x2="1777" y2="1872"/><line x1="1543" y1="1897" x2="1777" y2="1897"/>
<text class="c" y="1846"><tspan x="1660">org.xdi.oxauth.service.Session</tspan><tspan x="1660" dy="15">IdService</tspan></text>
<text y="1913"><tspan x="1554">+ getAcr()</tspan><tspan x="1554" dy="14.7">+ assertAuthenticatedSession</tspan><tspan x="1554" dy="14.7">CorrespondsToNewRequest()</tspan><tspan x="1554" dy="14.7">+ reinitLogin()</tspan><tspan x="1554" dy="14.7">+ resetToStep()</tspan><tspan x="1554" dy="14.7">+ getSessionIdFromCookie()</tspan><tspan x="1554" dy="14.7">+ getUmaSessionIdFromCookie()</tspan><tspan x="1554" dy="14.7">+ getConsentSessionIdFromCookie()</tspan><tspan x="1554" dy="14.7">+ getSessionIdFromCookie()</tspan><tspan x="1554" dy="14.7">+ getSessionIdFromCookie()</tspan><tspan x="1554" dy="14.7">+ createSessionIdCookie()</tspan><tspan x="1554" dy="14.7">□□ 30 □...</tspan><tspan x="1554" dy="14.7">- getCurrentSessionAttributes()</tspan><tspan x="1554" dy="14.7">- generateAuthenticatedSessionId()</tspan><tspan x="1554" dy="14.7">- generateSessionId()</tspan><tspan x="1554" dy="14.7">- generateJwt()</tspan><tspan x="1554" dy="14.7">- putInCache()</tspan><tspan x="1554" dy="14.7">- getFromCache()</tspan><tspan x="1554" dy="14.7">- mergeWithRetry()</tspan><tspan x="1554" dy="14.7">- isPersisted()</tspan><tspan x="1554" dy="14.7">- init()</tspan><tspan x="1554" dy="14.7">- getBaseDn()</tspan><tspan x="1554" dy="14.7">- getPromptsFromSessionId()</tspan><tspan x="1554" dy="14.7">- auditLogging()</tspan></text></g>
<g id="node-UmaScopeService" class="node b"><rect x="2670" y="1904" width="206" height="282"/><line x1="2670" y1="1944" x2="2876" y2="1944"/><line x1="2670" y1="1969" x2="2876" y2="1969"/>
<text class="c" y="1919"><tspan x="2773">org.xdi.oxauth.uma.service.</tspan><tspan x="2773" dy="15">UmaScopeService</tspan></text>
<text y="1985"><tspan x="2681">+ getAllScopes()</tspan><tspan x="2681" dy="14.7">+ getScope()</tspan><tspan x="2681" dy="14.7">+ persist()</tspan><tspan x="2681" dy="14.7">+ getScopeDNsByIdsAndAddTo</tspan><tspan x="2681" dy="14.7">LdapIfNeeded()</tspan><tspan x="2681" dy="14.7">+ getScopesByDns()</tspan><tspan x="2681" dy="14.7">+ getScopeIdsByDns()</tspan><tspan x="2681" dy="14.7">+ getScopeIds()</tspan><tspan x="2681" dy="14.7">+ getScopesByIds()</tspan><tspan x="2681" dy="14.7">+ addScope()</tspan><tspan x="2681" dy="14.7">+ getScopeEndpoint()</tspan><tspan x="2681" dy="14.7">+ baseDn()</tspan><tspan x="2681" dy="14.7">+ asString()</tspan><tspan x="2681" dy="14.7">- createAnyFilterByIds()</tspan></text></g>
<g id="node-UserService" class="node b"><rect x="3868" y="1926" width="178" height="237"/><line x1="3868" y1="1966" x2="4046" y2="1966"/><line x1="3868" y1="1990" x2="4046" y2="1990"/>
<text class="c" y="1941"><tspan x="3957">org.xdi.oxauth.service.User</tspan><tspan x="3957" dy="15">Service</tspan></text>
<text y="2006"><tspan x="3879">+ getUserByDn()</tspan><tspan x="3879" dy="14.7">+ getUserByInum()</tspan><tspan x="3879" dy="14.7">+ getUser()</tspan><tspan x="3879" dy="14.7">+ getUserInum()</tspan><tspan x="3879" dy="14.7">+ getUserInum()</tspan><tspan x="3879" dy="14.7">+ getUserNameByInum()</tspan><tspan x="3879" dy="14.7">+ updateUser()</tspan><tspan x="3879" dy="14.7">+ addDefaultUser()</tspan><tspan x="3879" dy="14.7">+ addUser()</tspan><tspan x="3879" dy="14.7">+ getUserByAttribute()</tspan><tspan x="3879" dy="14.7">□□ 14 □...</tspan></text></g>
<g id="node-ClientService" class="node b"><rect x="4620" y="1889" width="186" height="311"/><line x1="4620" y1="1930" x2="4806" y2="1930"/><line x1="4620" y1="1953" x2="4806" y2="1953"/>
<text class="c" y="1904"><tspan x="4713">org.xdi.oxauth.service.Client</tspan><tspan x="4713" dy="15">Service</tspan></text>
<text y="1969"><tspan x="4631">+ persist()</tspan><tspan x="4631" dy="14.7">+ merge()</tspan><tspan x="4631" dy="14.7">+ authenticate()</tspan><tspan x="4631" dy="14.7">+ getClient()</tspan><tspan x="4631" dy="14.7">+ getClient()</tspan><tspan x="4631" dy="14.7">+ getClient()</tspan><tspan x="4631" dy="14.7">+ getClientsByDns()</tspan><tspan x="4631" dy="14.7">+ getClientsByDns()</tspan><tspan x="4631" dy="14.7">+ getClientByDn()</tspan><tspan x="4631" dy="14.7">+ getCustomAttribute()</tspan><tspan x="4631" dy="14.7">□□ 10 □...</tspan><tspan x="4631" dy="14.7">- putInCache()</tspan><tspan x="4631" dy="14.7">- fromCache()</tspan><tspan x="4631" dy="14.7">- removeFromCache()</tspan><tspan x="4631" dy="14.7">- getClientIdCacheKey()</tspan><tspan x="4631" dy="14.7">- getClientDnCacheKey()</tspan></text></g>
<g id="node-UmaResourceService" class="node b"><rect x="5057" y="1883" width="236" height="324"/><line x1="5057" y1="1921" x2="5293" y2="1921"/><line x1="5057" y1="1960" x2="5293" y2="1960"/>
<text class="c" y="1897"><tspan x="5175">org.xdi.oxauth.uma.service.</tspan><tspan x="5175" dy="15">UmaResourceService</tspan></text>
<text y="1937"><tspan x="5068">- RESOURCE_CACHE_EXPIRATION</tspan><tspan x="5068" dy="14.7">_IN_SECONDS</tspan></text>
<text y="1976"><tspan x="5068">+ addBranch()</tspan><tspan x="5068" dy="14.7">+ addResource()</tspan><tspan x="5068" dy="14.7">+ validate()</tspan><tspan x="5068" dy="14.7">+ updateResource()</tspan><tspan x="5068" dy="14.7">+ remove()</tspan><tspan x="5068" dy="14.7">+ remove()</tspan><tspan x="5068" dy="14.7">+ remove()</tspan><tspan x="5068" dy="14.7">+ getResourcesByAssociated</tspan><tspan x="5068" dy="14.7">Client()</tspan><tspan x="5068" dy="14.7">+ containsResource()</tspan><tspan x="5068" dy="14.7">+ getResources()</tspan><tspan x="5068" dy="14.7">□□ 6 □...</tspan><tspan x="5068" dy="14.7">- findResources()</tspan><tspan x="5068" dy="14.7">- prepareBranch()</tspan><tspan x="5068" dy="14.7">- putInCache()</tspan><tspan x="5068" dy="14.7">- fromCache()</tspan></text></g>
<g id="node-UmaPermissionService" class="node b"><rect x="2632" y="2323" width="281" height="355"/><line x1="2632" y1="2364" x2="2913" y2="2364"/><line x1="2632" y1="2389" x2="2913" y2="2389"/>
<text class="c" y="2338"><tspan x="2772.5">org.xdi.oxauth.uma.service.</tspan><tspan x="2772.5" dy="15">UmaPermissionService</tspan></text>
<text x="2643" y="2380">- DEFAULT_TICKET_LIFETIME</text>
<text y="2405"><tspan x="2643">+ generateNewTicket()</tspan><tspan x="2643" dy="14.7">+ addPermission()</tspan><tspan x="2643" dy="14.7">+ ticketExpirationDate()</tspan><tspan x="2643" dy="14.7">+ addPermission()</tspan><tspan x="2643" dy="14.7">+ merge()</tspan><tspan x="2643" dy="14.7">+ mergeSilently()</tspan><tspan x="2643" dy="14.7">+ getPermissionsByTicket()</tspan><tspan x="2643" dy="14.7">+ getPermissionTicketByConfigurationCode()</tspan><tspan x="2643" dy="14.7">+ getPermissionByConfigurationCode()</tspan><tspan x="2643" dy="14.7">+ deletePermission()</tspan><tspan x="2643" dy="14.7">+ cleanup()</tspan><tspan x="2643" dy="14.7">+ addBranch()</tspan><tspan x="2643" dy="14.7">+ addBranchIfNeeded()</tspan><tspan x="2643" dy="14.7">+ containsBranch()</tspan><tspan x="2643" dy="14.7">+ changeTicket()</tspan><tspan x="2643" dy="14.7">+ getDn()</tspan><tspan x="2643" dy="14.7">+ getBranchDn()</tspan><tspan x="2643" dy="14.7">- createPermissions()</tspan><tspan x="2643" dy="14.7">- getExpiredUmaPermissionFilter()</tspan></text></g>
<g id="node-UmaSessionService" class="node b"><rect x="4618" y="2382" width="180" height="237"/><line x1="4618" y1="2422" x2="4798" y2="2422"/><line x1="4618" y1="2447" x2="4798" y2="2447"/>
<text class="c" y="2397"><tspan x="4708">org.xdi.oxauth.uma.service.</tspan><tspan x="4708" dy="15">UmaSessionService</tspan></text>
<text y="2463"><tspan x="4629">+ getConnectSession()</tspan><tspan x="4629" dy="14.7">+ getSession()</tspan><tspan x="4629" dy="14.7">+ persist()</tspan><tspan x="4629" dy="14.7">+ getStep()</tspan><tspan x="4629" dy="14.7">+ setStep()</tspan><tspan x="4629" dy="14.7">+ configure()</tspan><tspan x="4629" dy="14.7">+ isStepPassed()</tspan><tspan x="4629" dy="14.7">+ isPassedPreviousSteps()</tspan><tspan x="4629" dy="14.7">+ markStep()</tspan><tspan x="4629" dy="14.7">+ getScriptName()</tspan><tspan x="4629" dy="14.7">□□ 15 □...</tspan></text></g>
<g id="node-UmaNeedsInfoService" class="node b main"><rect x="4163" y="2742" width="226" height="149"/><line x1="4163" y1="2782" x2="4389" y2="2782"/><line x1="4163" y1="2807" x2="4389" y2="2807"/>
<text class="c" y="2757"><tspan x="4276">org.xdi.oxauth.uma.service.</tspan><tspan x="4276" dy="15">UmaNeedsInfoService</tspan></text>
<text y="2823"><tspan x="4174">+ checkNeedsInfo()</tspan><tspan x="4174" dy="14.7">+ getScriptDNs()</tspan><tspan x="4174" dy="14.7">- constructGatheringScript</tspan><tspan x="4174" dy="14.7">NameValue()</tspan><tspan x="4174" dy="14.7">- buildClaimsGatheringRedirectUri()</tspan></text></g>
</svg>
